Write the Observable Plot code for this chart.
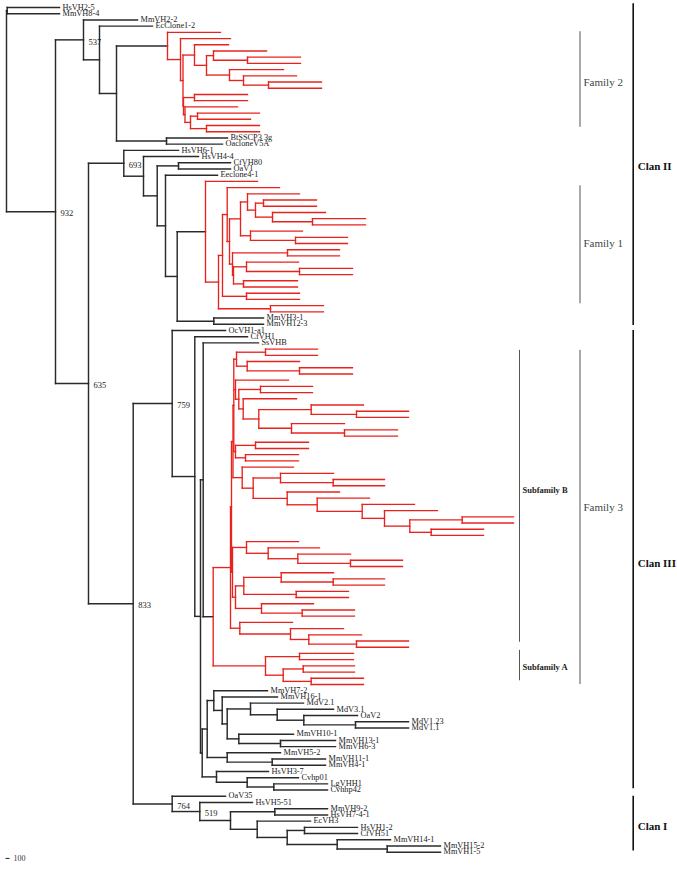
<!DOCTYPE html>
<html><head><meta charset="utf-8">
<script src="https://cdn.jsdelivr.net/npm/d3@7"></script>
<script src="https://cdn.jsdelivr.net/npm/@observablehq/plot@0.6"></script>
<style>body{margin:0;background:#fff}</style>
</head><body><div id="chart"></div>
<script>
// Tree notation: leaf = name@dist, node = (children)@dist ; dist = distance from root.
// "#n" = bootstrap support, "!" = highlighted (red) family clade.
const familyTwo = `(@220,(@230,((@228,((@266,(@300,@300)@247)@213,(@283,(@296,(@321,@321)@268)@243)@229)@206)@194,((@247,@247)@194,(@237,((@259,@250)@197,(@259,@259)@206)@190)@184.5)@183)@182.5)@180)@167!`;
const famOneA = `((@299,((@316,@316)@263,(@325,(@365,@365)@312)@272)@255)@247,(@302,(@347,@347)@295)@250)@240`;
const famOneB = `((@339,@339)@287,((@298,(@352,@352)@299)@246,(@297,@297)@243)@233)@232`;
const familyOne = `(@257,(((@279,(${famOneA},${famOneB})@229)@226.7,(@299,@299)@246)@222,(@323,@323)@270)@218)@205!`;
const subB1 = `((@317,@317)@265,(@299,(@352,@352)@299)@246.7)@236`;
const subB2 = `(@288,((@312,@312)@260,(@296,((@363,(@408,@408)@356)@310.7,(@344,(@397,@397)@344)@291)@258.3)@242.7)@238.3)@235`;
const subB3 = `((@308,@308)@255,(@298,@298)@245)@235`;
const subB4 = `(@293,((@333,(@384,@384)@332.7)@280,(@339,(@369,(@414,(@437,((@513,@513)@461.7,(@483,@483)@430.7)@409.3)@384)@361.7)@316.7)@286.7)@252.7)@241.7`;
const subB5 = `(@298,(@319,(@350,(@402,@402)@350)@297.3)@267.7)@246`;
const subB6 = `((@333,(@384,@384)@332.7)@280.7,(@348,@348)@295.7)@243.3`;
const subB7 = `(@313,(@354,@354)@301.7)@261`;
const subB8 = `(@292,(@343,(@361,(@408,@408)@356)@308.3)@290)@239.3`;
const subfamilyB = `((((${subB1},${subB2},${subB3})@233.3,${subB4})@232.5,(${subB5},(${subB6},${subB7})@235)@232)@231,${subB8})@230`;
const subfamilyA = `((@353,@353)@299,((@354,@354)@302.7,(@363,@363)@310.7)@282.7)@265`;
const groupV1 = `(MmVH7-2@267,(MmVH16-1@277,((MdV2.1@303,(MdV3.1@333,(OaV2@357,(MdV1.23@408,MdV1.1@408)@355)@303.3)@276.7)@250,(MmVH10-1@293,(MmVH13-1@335,MmVH6-3@335)@280)@238.3)@226.7)@221.7)@213.3`;
const groupW = `(MmVH5-2@280,(MmVH11-1@325,MmVH4-1@325)@271.7)@226.7`;
const groupX = `(HsVH3-7@268,(Cvhp01@298,(LgVHH1@327,Cvhhp42@327)@273.3)@246.7)@216`;
const clanTwoTop = `(MmVH2-2@137,(EcClone1-2@152,(${familyTwo},(BtSSCP3 3g@227,OacloneV5A@222)@166)@116)@99)@83#537`;
const clanTwoLow = `(HsVH6-1@178,(HsVH4-4@198,((CfVH80@230,OaV1@230)@178,(Eeclone4-1@217,(${familyOne},(MmVH3-1@263,MmVH12-3@263)@213.3)@176.7)@165)@156.7)@143)@123.3#693`;
const clanThree = `(OcVH1-a1@225,(CfVH1@247,((SsVHB@258,(${subfamilyB},${subfamilyA})@212.7!)@202.7,((${groupV1},${groupW})@206.7,${groupX})@201.7)@200)@194.3)@171.7#759`;
const clanOne = `(OaV35@225,(HsVH5-51@252,((MmVH9-2@327,HsVH7-4-1@327)@274.3,(EcVH3@310,((HsVH1-2@357,CfVH51@357)@304,(MmVH14-1@390,(MmVH15-2@440,MmVH1-5@440)@386.7)@336.7)@286.7)@256.7)@230)@199.3#519)@171.7#764`;
const treeSource = `((HsVH2-5@59,MmVH8-4@59)@6.7,(${clanTwoTop},(${clanTwoLow},(${clanThree},${clanOne})@132.7#833)@88#635)@55#932)@6`;

// Clade annotations (extent and label position in leaf-row units)
const cladeNames = ["Clan II", "Clan III", "Clan I", "Family 2", "Family 1", "Family 3", "Subfamily B", "Subfamily A"];
const cladeLevels = ["clan", "clan", "clan", "family", "family", "family", "subfamily", "subfamily"];
const cladeFrom = [-0.6, 52, 127, 3.9, 28.7, 55.2, 55.2, 103.5];
const cladeTo = [51.2, 125.8, 135.8, 19.3, 47.7, 109, 102.2, 108.4];
const cladeLabelRow = [25.6, 89.5, 131.9, 12.1, 38, 80.5, 77.8, 106.3];
const scaleBarLabel = "100";

function parseTree(src) {
  const s = src.replace(/\s*([(),@#!])\s*/g, "$1").trim();
  let i = 0;
  const num = () => { const a = i; while (i < s.length && /[0-9.]/.test(s[i])) i++; return +s.slice(a, i); };
  function node() {
    const n = {children: []};
    if (s[i] === "(") {
      i++;
      n.children.push(node());
      while (s[i] === ",") { i++; n.children.push(node()); }
      i++;
    } else {
      const a = i; while (s[i] !== "@") i++;
      n.name = s.slice(a, i);
    }
    i++;
    n.dist = num();
    if (s[i] === "#") { i++; n.support = String(num()); }
    if (s[i] === "!") { i++; n.flag = true; }
    return n;
  }
  return node();
}

const root = parseTree(treeSource);
const segs = [], leaves = [], supports = [];
let row = 0;
(function layout(n, parent, red) {
  const isRed = red || !!n.flag;
  if (!n.children.length) { n.y = row++; leaves.push(n); }
  else {
    n.children.forEach(c => layout(c, n, isRed));
    const first = n.children[0], last = n.children[n.children.length - 1];
    n.y = (first.y + last.y) / 2;
    segs.push({x1: n.dist, x2: n.dist, y1: first.y, y2: last.y, red: isRed});
  }
  if (parent) segs.push({x1: parent.dist, x2: n.dist, y1: n.y, y2: n.y, red: !!red});
  if (n.support) supports.push(n);
})(root, null, false);

const clades = cladeNames.map((name, k) => ({name, level: cladeLevels[k], from: cladeFrom[k], to: cladeTo[k], at: cladeLabelRow[k]}));
const column = {clan: 632.7, family: 579.5, subfamily: 519};
const serif = "'Liberation Serif','Times New Roman',serif";
const linkOpts = {x1: "x1", y1: "y1", x2: "x2", y2: "y2", strokeLinecap: "square"};
const lvl = l => clades.filter(d => d.level === l);

const chart = Plot.plot({
  width: 677, height: 869, margin: 0,
  x: {domain: [0, 677], range: [0, 677], axis: null},
  y: {domain: [0, row - 1], range: [7, 851.7], axis: null},
  marks: [
    Plot.link(segs.filter(d => !d.red), {...linkOpts, stroke: "#2a2a2a", strokeWidth: 1.45}),
    Plot.link(segs.filter(d => d.red), {...linkOpts, stroke: "#e8231d", strokeWidth: 1.35}),
    Plot.text(leaves.filter(d => d.name), {x: "dist", y: "y", text: "name", dx: 3, dy: -0.5, textAnchor: "start", fontSize: 8.3, fontFamily: serif, fill: "#222"}),
    Plot.text(supports, {x: "dist", y: "y", text: "support", dx: 5, dy: 2, textAnchor: "start", fontSize: 8.5, fontFamily: serif, fill: "#222"}),
    Plot.ruleX(lvl("clan"), {x: d => column[d.level], y1: "from", y2: "to", stroke: "#111", strokeWidth: 1.6}),
    Plot.ruleX(lvl("family"), {x: d => column[d.level], y1: "from", y2: "to", stroke: "#555", strokeWidth: 1}),
    Plot.ruleX(lvl("subfamily"), {x: d => column[d.level], y1: "from", y2: "to", stroke: "#555", strokeWidth: 1}),
    Plot.text(lvl("clan"), {x: d => column[d.level], y: "at", text: "name", dx: 4.5, textAnchor: "start", fontFamily: serif, fontSize: 11, fontWeight: "bold", fill: "#111"}),
    Plot.text(lvl("family"), {x: d => column[d.level], y: "at", text: "name", dx: 3.5, textAnchor: "start", fontFamily: serif, fontSize: 11, fill: "#444"}),
    Plot.text(lvl("subfamily"), {x: d => column[d.level], y: "at", text: "name", dx: 3, textAnchor: "start", fontFamily: serif, fontSize: 8.5, fontWeight: "bold", fill: "#222"}),
    Plot.link([{a: 5, b: 9, r: row}], {x1: "a", x2: "b", y1: "r", y2: "r", stroke: "#222", strokeWidth: 1}),
    Plot.text([{a: 9, r: row}], {x: "a", y: "r", text: () => scaleBarLabel, dx: 4, textAnchor: "start", fontSize: 8, fontFamily: serif, fill: "#333"})
  ]
});
document.getElementById("chart").appendChild(chart);
</script></body></html>
